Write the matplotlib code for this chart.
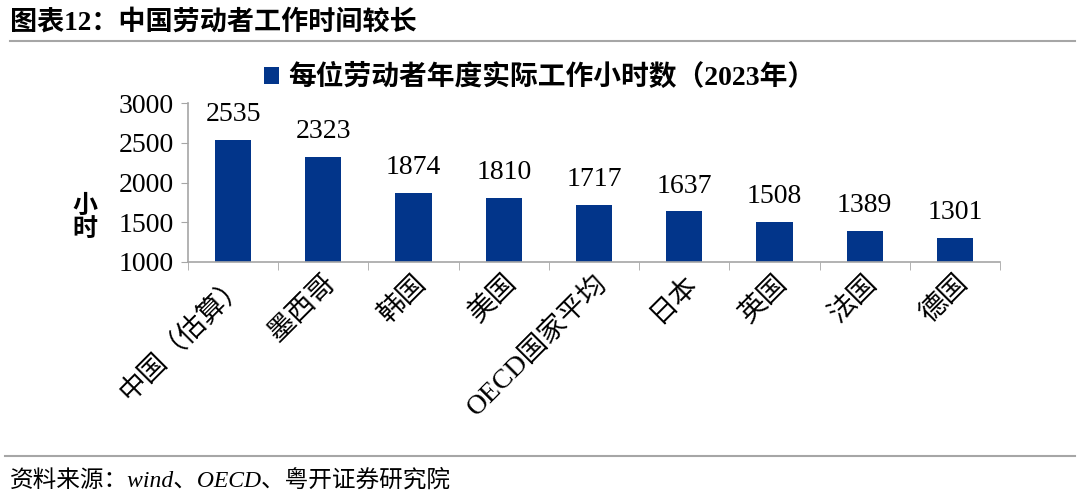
import matplotlib.pyplot as plt
import numpy as np

plt.rcParams['font.family'] = ['Liberation Serif', 'Noto Sans CJK SC']

countries = ["中国（估算）", "墨西哥", "韩国", "美国", "OECD国家平均", "日本", "英国", "法国", "德国"]
hours = [2535, 2323, 1874, 1810, 1717, 1637, 1508, 1389, 1301]
yticks = [1000, 1500, 2000, 2500, 3000]

bar_color = "#02358A"
grey = "#A6A6A6"

fig = plt.figure(figsize=(10.8, 4.98), dpi=100)
ax = fig.add_axes([0.174, 0.474, 0.752, 0.319])

x = np.arange(len(countries))
ax.bar(x, hours, width=0.4, color=bar_color, label="每位劳动者年度实际工作小时数（2023年）")
for xi, v in zip(x, hours):
    ax.text(xi, v + 160, str(v), ha="center", va="bottom", fontsize=20)

ax.set_xlim(-0.5, len(countries) - 0.5)
ax.set_ylim(1000, 3000)
ax.set_yticks(yticks)
ax.set_yticklabels([str(t) for t in yticks], fontsize=20)
ax.set_xticks(x)
ax.set_xticklabels(countries, rotation=45, ha="right", rotation_mode="anchor", fontsize=20)
ax.set_xticks(np.arange(-0.5, len(countries)), minor=True)
ax.tick_params(axis="x", which="major", length=0, pad=6)
ax.tick_params(axis="x", which="minor", length=6, color=grey, direction="out")
ax.tick_params(axis="y", length=5, color=grey, direction="out", pad=5)

for side in ["top", "right"]:
    ax.spines[side].set_visible(False)
for side in ["left", "bottom"]:
    ax.spines[side].set_color(grey)
    ax.spines[side].set_linewidth(1.2)

ax.set_ylabel("小\n时", rotation=0, fontsize=18, fontweight="bold", va="center", linespacing=1.0)
ax.yaxis.set_label_coords(-0.127, 0.277)

ax.legend(loc="center", bbox_to_anchor=(0.433, 1.16), frameon=False,
          prop={"size": 20, "weight": "bold"}, handlelength=0.55, handleheight=0.55, handletextpad=0.3)

# title and footer
fig.text(0.009, 0.955, "图表12：中国劳动者工作时间较长", fontsize=19.5, fontweight="bold", va="center", ha="left")
fig.add_artist(plt.Line2D([0.009, 0.995], [0.918, 0.918], color=grey, linewidth=1.5))
fig.add_artist(plt.Line2D([0.005, 0.995], [0.084, 0.084], color=grey, linewidth=1.5))
fig.text(0.009, 0.036, "资料来源：wind、OECD、粤开证券研究院", fontsize=17, style="italic", va="center", ha="left")

fig.savefig("out.png", dpi=100)
